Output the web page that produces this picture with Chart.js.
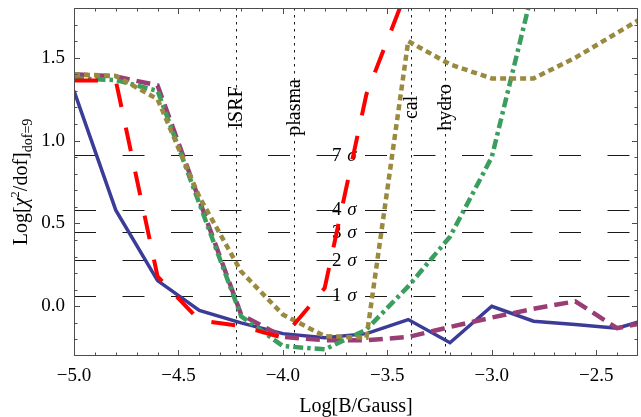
<!DOCTYPE html>
<html>
<head>
<meta charset="utf-8">
<script src="https://cdn.jsdelivr.net/npm/chart.js"></script>
<style>
  html, body { margin: 0; padding: 0; background: #fff; }
  #wrap { width: 641px; height: 417px; }
</style>
</head>
<body>
<div id="wrap"><canvas id="myChart" width="641" height="417"></canvas></div>
<script>
// Log[B/Gauss] grid shared by every curve
const logB = [-5.0, -4.8, -4.6, -4.4, -4.2, -4.0, -3.8, -3.6, -3.4, -3.2, -3.0, -2.8, -2.6, -2.4, -2.2];

// Log[chi^2/dof] per model
const blueSolid  = [1.30, 0.58, 0.155, -0.025, -0.10, -0.165, -0.19, -0.165, -0.08, -0.22, 0.0, -0.09, -0.11, -0.132, -0.06];
const redLong    = [1.363, 1.363, 0.18, -0.085, -0.12, -0.19, 0.11, 1.28, 1.93, 2.6, null, null, null, null, null];
const purpleDash = [1.40, 1.387, 1.333, 0.64, -0.05, -0.185, -0.205, -0.205, -0.185, -0.125, -0.068, -0.015, 0.03, -0.132, -0.08];
const greenDot   = [1.375, 1.365, 1.30, 0.62, -0.06, -0.24, -0.26, -0.14, 0.12, 0.42, 0.90, 1.93, 2.9, null, null];
const oliveDot   = [1.40, 1.39, 1.25, 0.66, 0.21, -0.05, -0.18, -0.19, 1.60, 1.46, 1.375, 1.375, 1.50, 1.65, 1.80];

// confidence levels (horizontal dashed) and their labels
const sigmaLevels = [0.912, 0.584, 0.446, 0.279, 0.063];
const sigmaLabels = ['7', '4', '3', '2', '1'];

// physical scales (vertical dotted)
const markerX = [-4.224, -3.946, -3.389, -3.225];
const markerNames = ['ISRF', 'plasma', 'cal', 'hydro'];

const xTicks = [-5.0, -4.5, -4.0, -3.5, -3.0, -2.5];
const yTicks = [0.0, 0.5, 1.0, 1.5];

const SERIF = '"Liberation Serif", "Times New Roman", serif';
const pts = vals => logB.map((x, i) => ({ x, y: vals[i] }));

function line(vals, color, dash, width) {
  return {
    data: pts(vals),
    borderColor: color,
    borderWidth: width,
    borderDash: dash,
    borderCapStyle: 'butt',
    pointRadius: 0,
    tension: 0,
    spanGaps: false,
    clip: 0,
  };
}

// kill the half-label padding Chart.js reserves at the scale ends
function noPad(s) {
  s.paddingTop = 0; s.paddingBottom = 0; s.paddingLeft = 0; s.paddingRight = 0;
}

const overlay = {
  id: 'overlay',
  beforeDatasetsDraw(chart) {
    const { ctx, chartArea: a, scales: { x, y } } = chart;
    ctx.save();
    ctx.beginPath();
    ctx.rect(a.left, a.top, a.right - a.left, a.bottom - a.top);
    ctx.clip();

    // sigma lines
    ctx.strokeStyle = '#1a1a1a';
    ctx.lineWidth = 1;
    ctx.setLineDash([22, 26.5]);
    sigmaLevels.forEach(v => {
      const py = Math.round(y.getPixelForValue(v)) + 0.5;
      ctx.beginPath();
      ctx.moveTo(a.left, py);
      ctx.lineTo(a.right, py);
      ctx.stroke();
    });

    // vertical dotted markers
    ctx.setLineDash([2.5, 4.5]);
    markerX.forEach(v => {
      const px = Math.round(x.getPixelForValue(v)) + 0.5;
      ctx.beginPath();
      ctx.moveTo(px, a.top);
      ctx.lineTo(px, a.bottom);
      ctx.stroke();
    });
    ctx.setLineDash([]);

    // marker names, rotated
    ctx.fillStyle = '#000';
    ctx.font = '20px ' + SERIF;
    ctx.textAlign = 'center';
    ctx.textBaseline = 'middle';
    markerNames.forEach((name, i) => {
      ctx.save();
      ctx.translate(x.getPixelForValue(markerX[i]) + 1, y.getPixelForValue(1.20));
      ctx.rotate(-Math.PI / 2);
      ctx.fillText(name, 0, 0);
      ctx.restore();
    });

    // sigma labels
    ctx.textAlign = 'left';
    ctx.textBaseline = 'alphabetic';
    sigmaLevels.forEach((v, i) => {
      const px = x.getPixelForValue(-3.765);
      const py = y.getPixelForValue(v) + 5.5;
      ctx.font = '19px ' + SERIF;
      const num = sigmaLabels[i] + ' ';
      ctx.fillText(num, px, py);
      const w = ctx.measureText(num).width;
      ctx.font = 'italic 19px ' + SERIF;
      ctx.fillText('σ', px + w + 1, py);
    });
    ctx.restore();
  },
  afterDraw(chart) {
    const { ctx, chartArea: a, scales: { x, y } } = chart;
    ctx.save();
    ctx.strokeStyle = '#4d4d4d';
    ctx.lineWidth = 1;
    ctx.strokeRect(a.left + 0.5, a.top + 0.5, a.right - a.left - 1, a.bottom - a.top - 1);

    // inward ticks on all four sides
    ctx.beginPath();
    for (let k = -50; k <= -22; k++) {
      const v = k / 10;
      const px = Math.round(x.getPixelForValue(v)) + 0.5;
      if (px < a.left || px > a.right) continue;
      const len = (k % 5 === 0) ? 6 : 3.5;
      ctx.moveTo(px, a.bottom); ctx.lineTo(px, a.bottom - len);
      ctx.moveTo(px, a.top); ctx.lineTo(px, a.top + len);
    }
    for (let k = -3; k <= 18; k++) {
      const v = k / 10;
      const py = Math.round(y.getPixelForValue(v)) + 0.5;
      if (py < a.top || py > a.bottom) continue;
      const len = (k % 5 === 0) ? 6 : 3.5;
      ctx.moveTo(a.left, py); ctx.lineTo(a.left + len, py);
      ctx.moveTo(a.right, py); ctx.lineTo(a.right - len, py);
    }
    ctx.stroke();

    // x title
    ctx.fillStyle = '#000';
    ctx.font = '20px ' + SERIF;
    ctx.textAlign = 'center';
    ctx.textBaseline = 'middle';
    ctx.fillText('Log[B/Gauss]', (a.left + a.right) / 2, 407);

    // y title with superscript and subscript
    const parts = [
      { t: 'Log[', f: '20px ' + SERIF, dy: 0 },
      { t: 'χ', f: 'italic 20px ' + SERIF, dy: 0 },
      { t: '2', f: '13px ' + SERIF, dy: -8 },
      { t: '/dof]', f: '20px ' + SERIF, dy: 0 },
      { t: 'dof=9', f: '14px ' + SERIF, dy: 5 },
    ];
    let total = 0;
    parts.forEach(p => { ctx.font = p.f; p.w = ctx.measureText(p.t).width; total += p.w; });
    ctx.translate(27, 182);
    ctx.rotate(-Math.PI / 2);
    ctx.textAlign = 'left';
    ctx.textBaseline = 'alphabetic';
    let cx = -total / 2;
    parts.forEach(p => { ctx.font = p.f; ctx.fillText(p.t, cx, p.dy); cx += p.w; });
    ctx.restore();
  }
};

const fmt = v => (v < 0 ? '\u2212' : '') + Math.abs(v).toFixed(1);

new Chart(document.getElementById('myChart'), {
  type: 'line',
  data: {
    datasets: [
      line(redLong, '#ff0000', [24, 21], 4),
      line(oliveDot, '#9a8a40', [6, 4], 4.5),
      line(greenDot, '#3a9e5e', [10, 4, 3.5, 4], 4.5),
      line(purpleDash, '#9a3d74', [14, 7], 4.5),
      line(blueSolid, '#3b3b98', [], 3.5),
    ],
  },
  options: {
    responsive: false,
    animation: false,
    devicePixelRatio: 1,
    layout: { padding: { left: 0, right: 3, top: 8, bottom: 0 } },
    plugins: { legend: { display: false }, tooltip: { enabled: false } },
    scales: {
      x: {
        type: 'linear',
        min: -5.0,
        max: -2.3,
        afterFit: s => { s.height = 61; noPad(s); },
        afterBuildTicks: s => { s.ticks = xTicks.map(value => ({ value })); },
        grid: { display: false, drawTicks: false },
        border: { display: false },
        ticks: {
          color: '#000',
          padding: 9,
          font: { family: SERIF, size: 19 },
          maxRotation: 0,
          callback: v => fmt(v),
        },
      },
      y: {
        type: 'linear',
        min: -0.3,
        max: 1.8,
        afterFit: s => { s.width = 74; noPad(s); },
        afterBuildTicks: s => { s.ticks = yTicks.map(value => ({ value })); },
        grid: { display: false, drawTicks: false },
        border: { display: false },
        ticks: {
          color: '#000',
          padding: 9,
          font: { family: SERIF, size: 19 },
          callback: v => fmt(v),
        },
      },
    },
  },
  plugins: [overlay],
});
</script>
</body>
</html>
